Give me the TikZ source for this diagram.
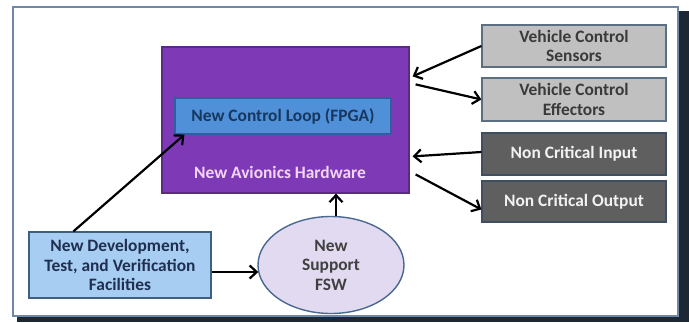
\documentclass[tikz,border=0pt]{standalone}
\usepackage{fontspec}
\setmainfont{Carlito}
\usetikzlibrary{arrows.meta,shapes.geometric,calc}

\definecolor{framecol}{HTML}{7088A8}
\definecolor{framedark}{HTML}{1C2833}
\definecolor{purplefill}{HTML}{7E3AB6}
\definecolor{purpleline}{HTML}{5A2A85}
\definecolor{purpletext}{HTML}{F2D6F4}
\definecolor{fpgafill}{HTML}{4F90D8}
\definecolor{fpgaline}{HTML}{2F5F9F}
\definecolor{fpgatext}{HTML}{17375E}
\definecolor{lgfill}{HTML}{C0C0C0}
\definecolor{lgline}{HTML}{5C6F82}
\definecolor{lgtext}{HTML}{3A3A3A}
\definecolor{dgfill}{HTML}{5F5F5F}
\definecolor{dgline}{HTML}{3F4F5F}
\definecolor{dgtext}{HTML}{F2F2F2}
\definecolor{facfill}{HTML}{A8CDF2}
\definecolor{facline}{HTML}{3F5F7F}
\definecolor{factext}{HTML}{1F2F4F}
\definecolor{fswfill}{HTML}{E1DAF0}
\definecolor{fswline}{HTML}{4A6890}
\definecolor{fswtext}{HTML}{404040}

\tikzset{
  txt/.style={font=\fontsize{17.4}{19.5}\selectfont\bfseries, align=center, inner sep=0pt},
  box/.style={txt, rectangle, line width=1.2pt},
  lightbox/.style={box, fill=lgfill, draw=lgline, text=lgtext,
    minimum width=184pt},
  darkbox/.style={box, fill=dgfill, draw=dgline, text=dgtext,
    minimum width=184pt},
  link/.style={line width=2.2pt, -{Straight Barb[length=7pt,width=13pt,line width=2.2pt]}},
}

\begin{document}
\begin{tikzpicture}[x=1pt,y=-1pt]
\useasboundingbox (0,0) rectangle (689,322);

% outer panel with its dark drop edge
\fill[framedark] (17,11) rectangle (689,322);
\filldraw[fill=white, draw=framecol, line width=1.5pt] (13,7) rectangle (678,316);

% avionics hardware block with the FPGA control loop inside
\node[box, fill=purplefill, draw=purpleline, minimum width=247pt, minimum height=146pt]
  (avionics) at (285.5,120) {};
\node[box, fill=fpgafill, draw=fpgaline, text=fpgatext, minimum width=216pt, minimum height=36pt]
  (fpga) at (283,116) {New Control Loop (FPGA)};
\node[txt, text=purpletext] (avlabel) at (280,172) {New Avionics Hardware};

% peripheral interfaces
\node[lightbox, minimum height=42pt] (sensors) at (574,46) {Vehicle Control\\Sensors};
\node[lightbox, minimum height=43pt] (effectors) at (574,99.5) {Vehicle Control\\Effectors};
\node[darkbox, minimum height=42pt] (nci) at (574,154) {Non Critical Input};
\node[darkbox, minimum height=41pt] (nco) at (574,201.5) {Non Critical Output};

% development facilities and support flight software
\node[box, fill=facfill, draw=facline, text=factext, minimum width=182pt, minimum height=66pt]
  (facilities) at (120,265) {New Development,\\Test, and Verification\\Facilities};
\node[txt, ellipse, fill=fswfill, draw=fswline, line width=1.4pt, text=fswtext,
  minimum width=146pt, minimum height=97pt]
  (fsw) at (331,265) {New\\Support\\FSW};

% connectors
\draw[link] (sensors.west) -- ($(avionics.north east)+(3,30)$);
\draw[link] ($(avionics.north east)+(6,38)$) -- (effectors.west);
\draw[link] ($(nci.west)+(0,-2)$) -- ($(avionics.north east)+(3,110)$);
\draw[link] ($(avionics.north east)+(6,128)$) -- ($(nco.west)+(0,8)$);
\draw[link] ($(fsw.north)+(5,0)$) -- ($(fsw.north |- avionics.south)+(5,0)$);
\draw[link] ($(facilities.east)+(0,7)$) -- ($(fsw.west)+(1,7)$);
\draw[link] ($(facilities.north west)+(45,0)$) -- ($(fpga.south west)+(10,0)$);
\end{tikzpicture}
\end{document}
